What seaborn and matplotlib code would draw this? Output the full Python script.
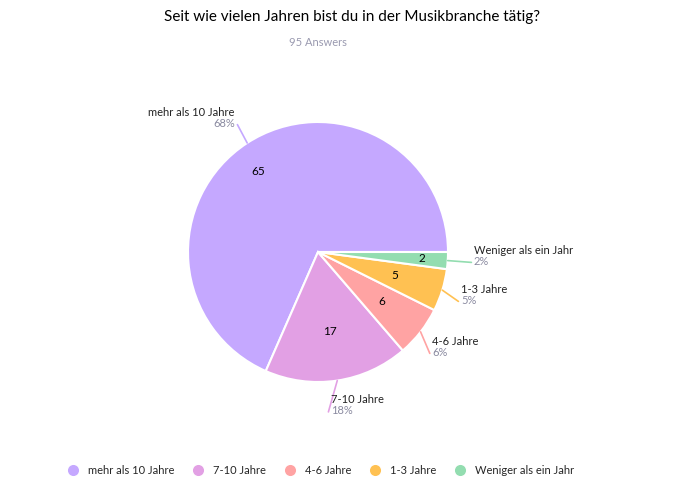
import matplotlib
matplotlib.use("Agg")
import matplotlib.pyplot as plt
import seaborn as sns
import numpy as np
from matplotlib.lines import Line2D

sns.set_theme(style="white")
plt.rcParams['font.family'] = ['Lato', 'DejaVu Sans']

categories = ["mehr als 10 Jahre", "7-10 Jahre", "4-6 Jahre", "1-3 Jahre", "Weniger als ein Jahr"]
values = [65, 17, 6, 5, 2]
percents = ["68%", "18%", "6%", "5%", "2%"]
colors = ["#C5A8FF", "#E2A0E4", "#FFA3A3", "#FFC152", "#93DDB0"]

fig = plt.figure(figsize=(6.92, 4.86), dpi=100)
ax = fig.add_axes([318/692 - 130/692, 1 - 252/486 - 130/486, 260/692, 260/486])
wedges, _ = ax.pie(values, colors=colors, startangle=0, counterclock=True,
                   wedgeprops=dict(edgecolor="white", linewidth=1.5))
ax.set_xlim(-1, 1); ax.set_ylim(-1, 1)

label_pos = [(-0.64, 1.03, "right"), (0.1, -1.18, "left"), (0.88, -0.73, "left"),
             (1.1, -0.33, "left"), (1.2, -0.03, "left")]
inner_r = [0.62, 0.62, 0.62, 0.62, 0.8]
for i, (w, v, p, c, lp, ir) in enumerate(zip(wedges, values, percents, colors, label_pos, inner_r)):
    ang = np.deg2rad((w.theta1 + w.theta2) / 2)
    if i == 0:
        tx, ty = -0.46, 0.62
        ex, ey = np.cos(np.deg2rad(123)), np.sin(np.deg2rad(123))
    else:
        tx, ty = ir*np.cos(ang), ir*np.sin(ang)
        ex, ey = np.cos(ang), np.sin(ang)
    ax.text(tx, ty, str(v), ha="center", va="center", fontsize=8.5, color="black")
    lx, ly, ha = lp
    ax.plot([ex, lx + (0.02 if ha == "right" else -0.02)], [ey, ly - 0.05], color=c, lw=1.2, clip_on=False)
    ax.text(lx, ly, categories[i], ha=ha, va="bottom", fontsize=8, color="#222222")
    ax.text(lx, ly, p, ha=ha, va="top", fontsize=8, color="#8a8aa0")

fig.text(352/692, 1 - 17/486, "Seit wie vielen Jahren bist du in der Musikbranche tätig?",
         ha="center", va="center", fontsize=11, color="black")
fig.text(318/692, 1 - 43/486, "95 Answers", ha="center", va="center", fontsize=8, color="#9a9ab0")

handles = [Line2D([0], [0], marker="o", color="w", markerfacecolor=c, markersize=9) for c in colors]
fig.legend(handles, categories, loc="center", bbox_to_anchor=(318/692, 1 - 470/486), ncol=5,
           frameon=False, fontsize=8, handletextpad=0.3, columnspacing=1.2)
fig.savefig("out.png", dpi=100)
